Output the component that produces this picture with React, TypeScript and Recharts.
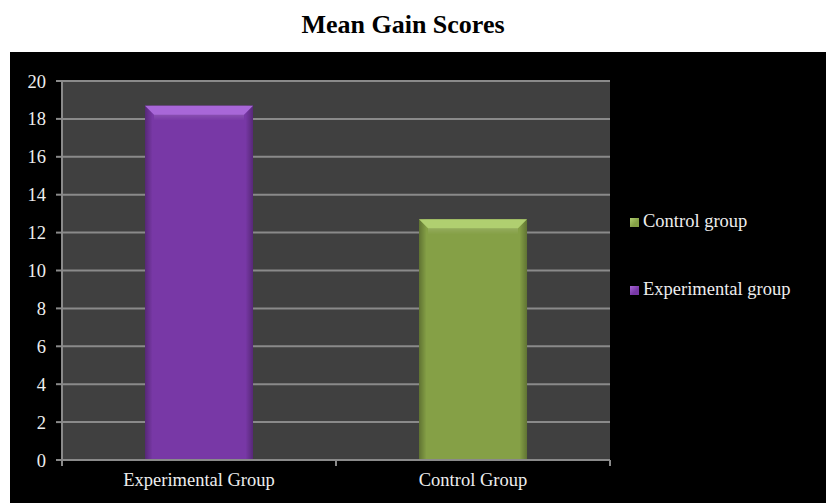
import React from 'react';
import { BarChart, Bar, XAxis, YAxis, CartesianGrid, Cell, Legend } from 'recharts';

const categories = ['Experimental Group', 'Control Group'];
const values = [18.7, 12.7];
const barColors = ['#7838a6', '#85a046'];
const barBevelColors = ['#a867d8', '#b0cf70'];
const legendLabels = ['Control group', 'Experimental group'];
const legendColors = ['#85a046', '#7838a6'];
const legendBevel = ['#b0cf70', '#a867d8'];
const yTicks = [0, 2, 4, 6, 8, 10, 12, 14, 16, 18, 20];

const data = categories.map((name, i) => ({ name, value: values[i] }));

const FONT = '"Liberation Serif", "Times New Roman", serif';
const FS = 18.5;

const BevelBar = (props: any) => {
  const { x, y, width, height, fill, index } = props;
  if (!height || height <= 0) return null;
  const b = Math.min(9, height / 2);
  const id = `sideGrad${index}`;
  const idb = `botGrad${index}`;
  return (
    <g>
      <defs>
        <linearGradient id={id} x1="0" x2="1" y1="0" y2="0">
          <stop offset="0" stopColor="#000" stopOpacity={0.28} />
          <stop offset="0.07" stopColor="#000" stopOpacity={0} />
          <stop offset="0.93" stopColor="#000" stopOpacity={0} />
          <stop offset="1" stopColor="#000" stopOpacity={0.28} />
        </linearGradient>
        <linearGradient id={idb} x1="0" x2="0" y1="0" y2="1">
          <stop offset="0" stopColor="#fff" stopOpacity={0.12} />
          <stop offset="1" stopColor="#fff" stopOpacity={0} />
        </linearGradient>
      </defs>
      <rect x={x} y={y} width={width} height={height} fill={fill} />
      <rect x={x} y={y} width={width} height={height} fill={`url(#${id})`} />
      <polygon
        points={`${x},${y} ${x + width},${y} ${x + width - b},${y + b} ${x + b},${y + b}`}
        fill={barBevelColors[index]}
      />
      <polygon
        points={`${x + b},${y + b} ${x + width - b},${y + b} ${x + width - b},${y + b + 6} ${x + b},${y + b + 6}`}
        fill={`url(#${idb})`}
      />
    </g>
  );
};

const XTick = (props: any) => {
  const { x, y, payload, index } = props;
  const half = payload && payload.offset ? payload.offset : 137;
  const axisY = y - 13;
  const isLast = index === categories.length - 1;
  return (
    <g>
      <line x1={x - half} x2={x - half} y1={axisY} y2={axisY + 6} stroke="#8a8a8a" strokeWidth={2} />
      {isLast && (
        <line x1={x + half} x2={x + half} y1={axisY} y2={axisY + 6} stroke="#8a8a8a" strokeWidth={2} />
      )}
      <text x={x} y={axisY + 26} textAnchor="middle" fill="#eeeeee" fontFamily={FONT} fontSize={FS}>
        {payload.value}
      </text>
    </g>
  );
};

const LegendContent = () => (
  <div style={{ position: 'relative', width: 200, height: 100, fontFamily: FONT, fontSize: FS, color: '#eeeeee' }}>
    {legendLabels.map((label, i) => (
      <div key={label} style={{ position: 'absolute', left: 0, top: i * 68, height: 22, whiteSpace: 'nowrap' }}>
        <span
          style={{
            position: 'absolute',
            left: 0,
            top: 8,
            width: 9,
            height: 9,
            background: `linear-gradient(135deg, ${legendBevel[i]} 0%, ${legendColors[i]} 60%)`,
          }}
        />
        <span style={{ position: 'absolute', left: 13, top: 0, lineHeight: '22px' }}>{label}</span>
      </div>
    ))}
  </div>
);

export default function App() {
  return (
    <div style={{ position: 'absolute', left: 0, top: 0, width: 826, height: 503, background: '#ffffff', overflow: 'hidden' }}>
      <div
        style={{
          position: 'absolute',
          left: 0,
          top: 12,
          width: 806,
          textAlign: 'center',
          fontFamily: FONT,
          fontWeight: 'bold',
          fontSize: 26,
          lineHeight: '26px',
          color: '#000',
        }}
      >
        Mean Gain Scores
      </div>
      <div style={{ position: 'absolute', left: 10, top: 52, width: 816, height: 451, background: '#000000' }}>
        <BarChart
          width={816}
          height={451}
          data={data}
          margin={{ top: 29, right: 216, bottom: 3, left: 0 }}
          barCategoryGap="30.3%"
        >
          <CartesianGrid vertical={false} fill="#404040" stroke="#8a8a8a" strokeWidth={2} />
          <XAxis
            dataKey="name"
            height={40}
            axisLine={{ stroke: '#8a8a8a', strokeWidth: 2 }}
            tickLine={false}
            tickSize={6}
            tickMargin={7}
            tick={<XTick />}
            interval={0}
          />
          <YAxis
            width={52}
            domain={[0, 20]}
            ticks={yTicks}
            interval={0}
            axisLine={{ stroke: '#8a8a8a', strokeWidth: 2 }}
            tickLine={{ stroke: '#8a8a8a', strokeWidth: 2 }}
            tickSize={6}
            tickMargin={10}
            tick={{ fill: '#eeeeee', fontFamily: FONT, fontSize: FS }}
          />
          <Legend
            layout="vertical"
            align="center"
            verticalAlign="middle"
            wrapperStyle={{ left: 620, top: 158, width: 200 }}
            content={<LegendContent />}
          />
          <Bar dataKey="value" isAnimationActive={false} shape={<BevelBar />}>
            {data.map((d, i) => (
              <Cell key={d.name} fill={barColors[i]} />
            ))}
          </Bar>
        </BarChart>
      </div>
    </div>
  );
}
